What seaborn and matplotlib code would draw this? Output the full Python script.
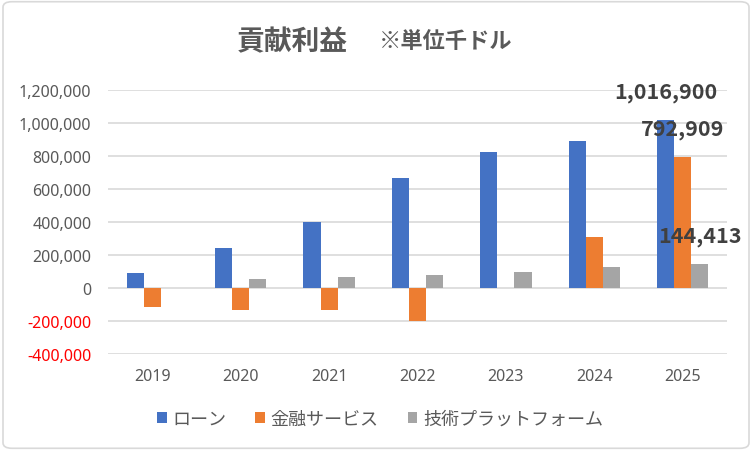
import matplotlib
matplotlib.use("Agg")
import matplotlib.pyplot as plt
import seaborn as sns
import pandas as pd
from matplotlib.patches import FancyBboxPatch
from matplotlib.ticker import FuncFormatter

years = ["2019", "2020", "2021", "2022", "2023", "2024", "2025"]
series_names = ["ローン", "金融サービス", "技術プラットフォーム"]
loan = [90000, 242000, 401000, 665000, 822000, 889000, 1016900]
finance = [-115000, -131000, -131000, -200000, 0, 308000, 792909]
tech = [0, 54000, 66500, 79000, 97000, 127000, 144413]
colors = ["#4472C4", "#ED7D31", "#A5A5A5"]

rows = []
for name, vals in zip(series_names, [loan, finance, tech]):
    for y, v in zip(years, vals):
        rows.append({"year": y, "series": name, "value": v})
df = pd.DataFrame(rows)

sns.set_style("white")
plt.rcParams['font.family'] = ['Noto Sans', 'Noto Sans CJK JP', 'DejaVu Sans']
cjk = ["Noto Sans CJK JP", "DejaVu Sans"]

fig = plt.figure(figsize=(7.52, 4.52), dpi=100)
ax = fig.add_axes([108/752, 1-355/452, (727-108)/752, (355-91)/452])

sns.barplot(data=df, x="year", y="value", hue="series", palette=colors,
            width=0.58, ax=ax, legend=True, saturation=1, linewidth=0)

ax.set_ylim(-400000, 1200000)
ax.set_yticks(range(-400000, 1200001, 200000))
ax.yaxis.set_major_formatter(FuncFormatter(lambda v, p: f"{int(v):,}"))
ax.grid(axis="y", color="#D9D9D9", linewidth=1.2)
ax.set_axisbelow(True)
for s in ax.spines.values():
    s.set_visible(False)
ax.set_xlabel("")
ax.set_ylabel("")
ax.tick_params(axis="both", length=0, labelsize=11.5, labelcolor="#595959")
ax.tick_params(axis="y", pad=12)
ax.tick_params(axis="x", pad=10)
for lbl, v in zip(ax.get_yticklabels(), ax.get_yticks()):
    if v < 0:
        lbl.set_color("#FF0000")

# data labels for 2025
for cont in ax.containers:
    vals = [b.get_height() for b in cont]
    labels = [""] * (len(vals) - 1) + [f"{int(round(vals[-1])):,}"]
    ax.bar_label(cont, labels=labels, padding=13, fontsize=15.5,
                 fontweight="bold", color="#404040", family=cjk)

# legend
handles, labels = ax.get_legend_handles_labels()
ax.legend_.remove()
leg = fig.legend(handles, labels, loc="center", bbox_to_anchor=(380/752, 1-420/452),
                 ncol=3, frameon=False, handlelength=0.55, handleheight=0.55,
                 handletextpad=0.3, columnspacing=1.6,
                 prop={"family": cjk, "size": 13})
for t in leg.get_texts():
    t.set_color("#595959")

# title
fig.text(292/752, 1-42/452, "貢献利益", ha="center", va="center", fontsize=20,
         color="#595959", fontweight="bold", family=cjk)
fig.text(446/752, 1-42/452, "※単位千ドル", ha="center", va="center", fontsize=16,
         color="#595959", fontweight="bold", family=cjk)

# border
fig.patches.append(FancyBboxPatch((0.004, 0.006), 0.992, 0.988,
                                  boxstyle="round,pad=0,rounding_size=0.012",
                                  transform=fig.transFigure, fill=False,
                                  edgecolor="#D9D9D9", linewidth=1.2))

fig.savefig("out.png", dpi=100)
